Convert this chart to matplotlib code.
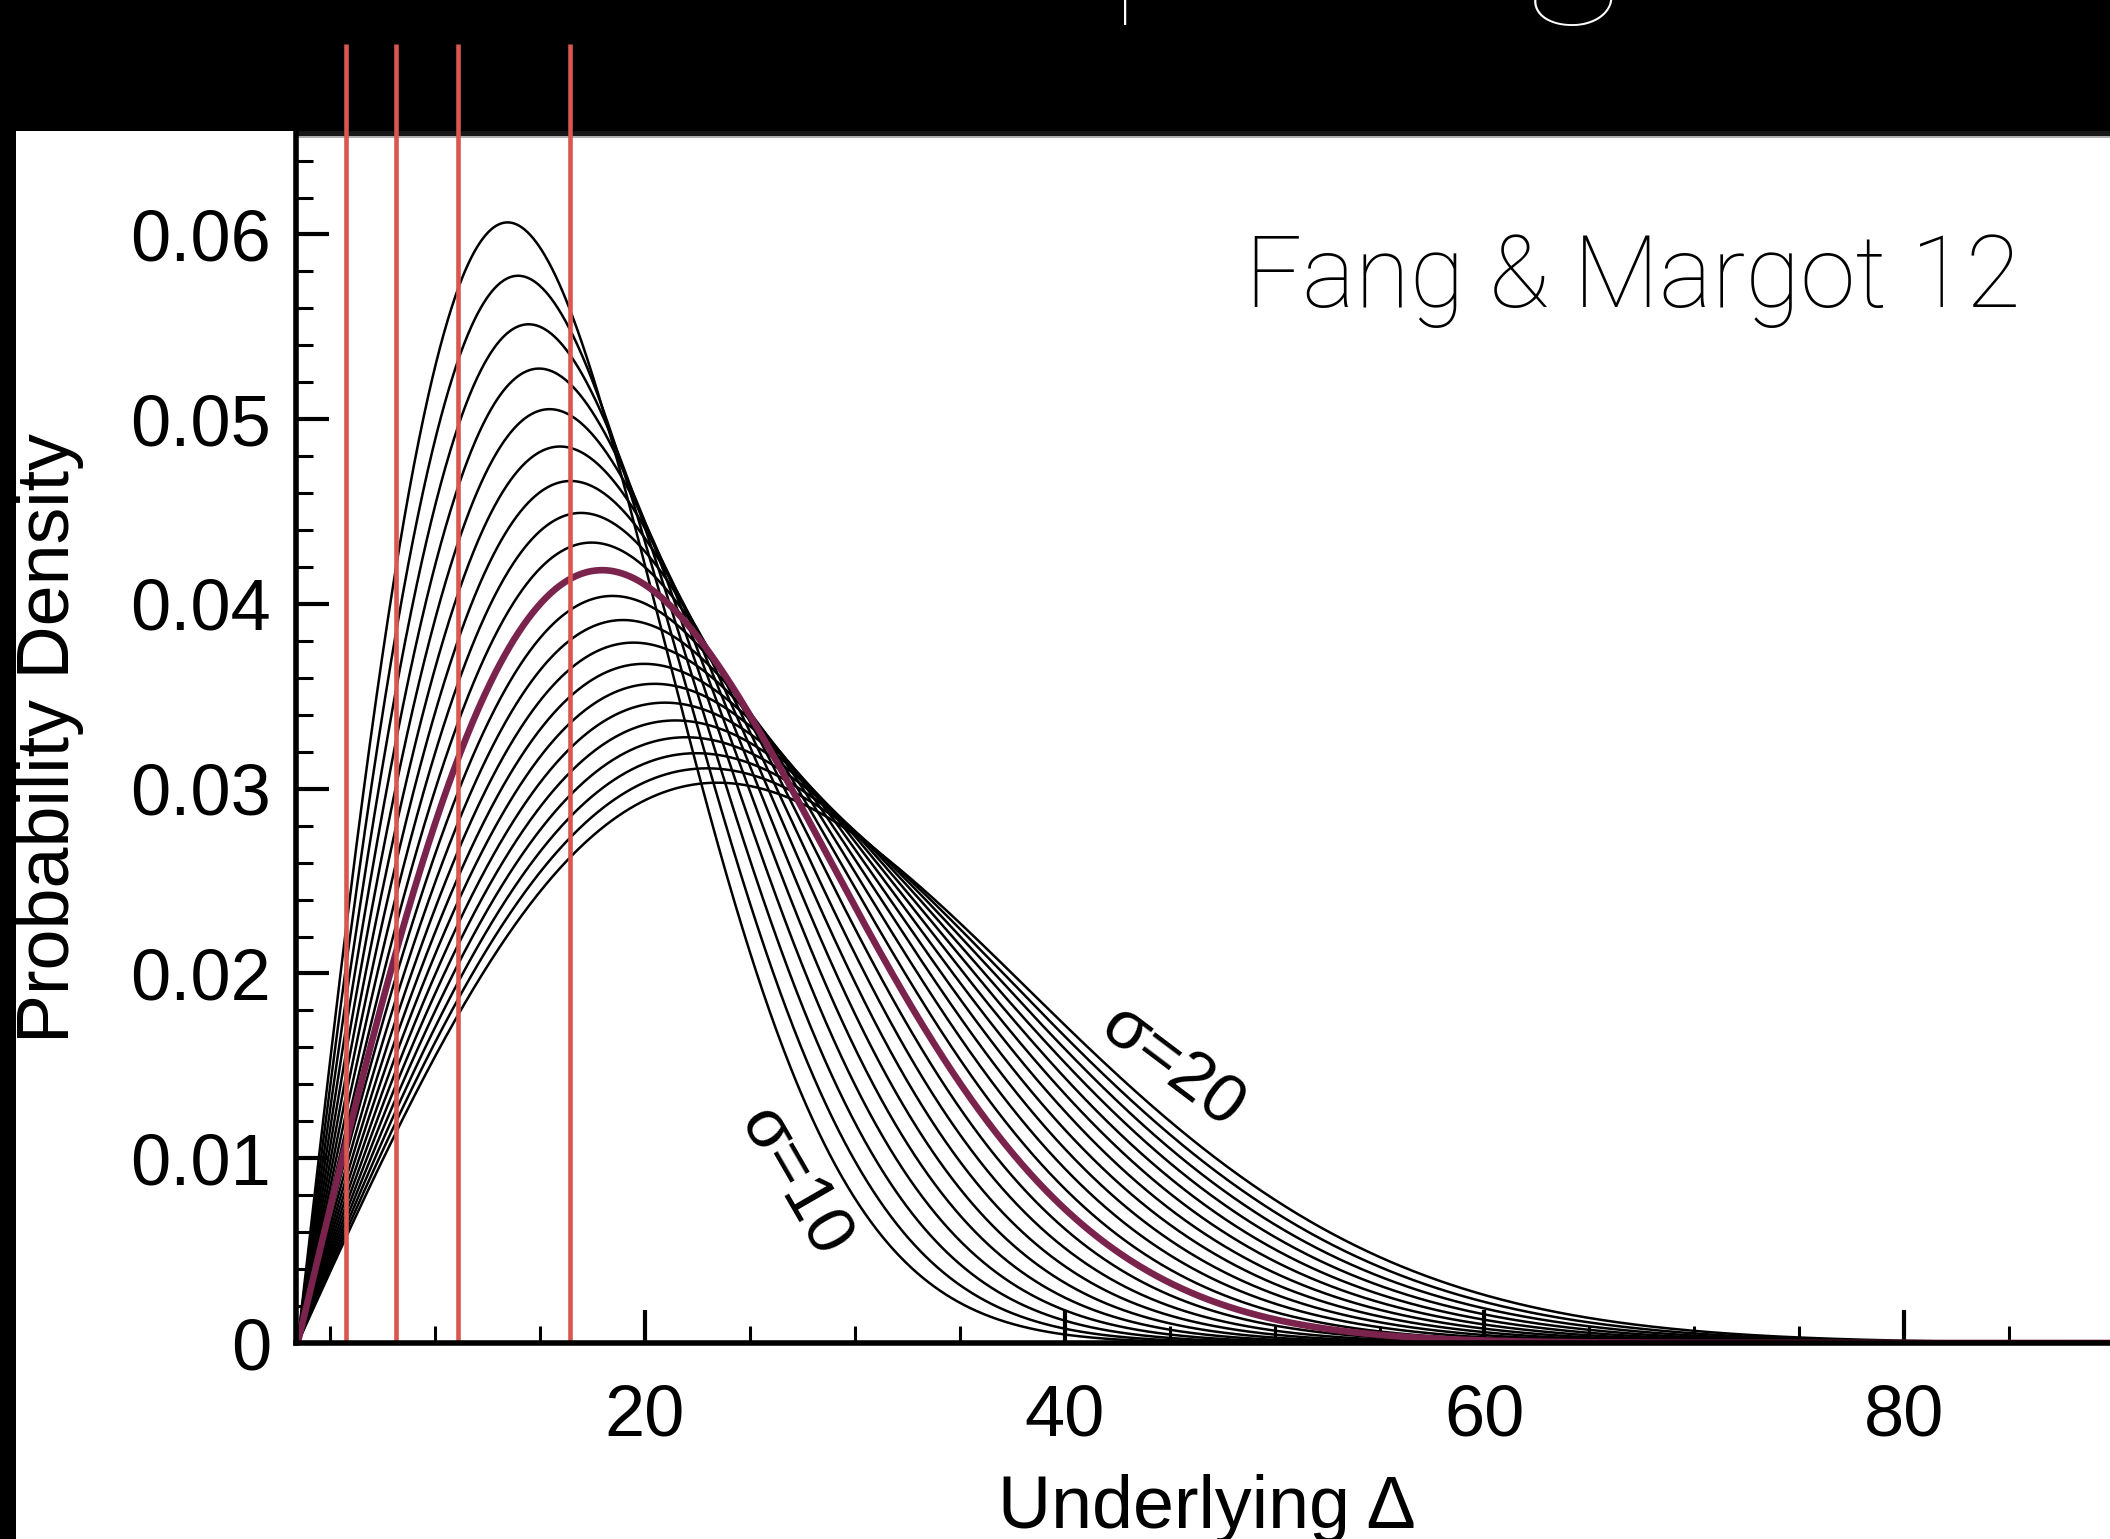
import numpy as np
import matplotlib
matplotlib.use("Agg")
import matplotlib.pyplot as plt
from matplotlib.patches import Rectangle
from matplotlib.ticker import MultipleLocator, FixedLocator, FuncFormatter

# Rayleigh widths of the family of underlying-spacing distributions
sigmas = [10.0, 10.5, 11.0, 11.5, 12.0, 12.5, 13.0, 13.5, 14.0, 14.5,
          15.0, 15.5, 16.0, 16.5, 17.0, 17.5, 18.0, 18.5, 19.0, 19.5, 20.0]
sigma_best = 14.5          # highlighted curve
delta_min = 3.46           # Hill-stability floor, 2*sqrt(3)
observed_delta = [5.76, 8.14, 11.1, 16.43]   # red markers

x_ticks = [20, 40, 60, 80]
y_ticks = [0.0, 0.01, 0.02, 0.03, 0.04, 0.05, 0.06]

W, H = 2110, 1539
fig = plt.figure(figsize=(W / 100, H / 100), dpi=100, facecolor="black")

# white slide panel holding the figure
fig.add_artist(Rectangle((16 / W, 0), 1 - 16 / W, (H - 131) / H,
                         transform=fig.transFigure, facecolor="white",
                         edgecolor="none", zorder=-10))
fig.add_artist(Rectangle((296 / W, (H - 136) / H), 1 - 296 / W, 5 / H,
                         transform=fig.transFigure, facecolor="#181818",
                         edgecolor="none", zorder=-9))
fig.add_artist(Rectangle((296 / W, (H - 138) / H), 1 - 296 / W, 2 / H,
                         transform=fig.transFigure, facecolor="#b0b0b0",
                         edgecolor="none", zorder=-9))

ax = fig.add_axes([296 / W, (H - 1343) / H, (W - 296) / W, (1343 - 131) / H])
ax.set_facecolor("none")

x = np.linspace(delta_min, 95, 2000)


def rayleigh(xv, s):
    d = xv - delta_min
    return d / s**2 * np.exp(-d**2 / (2 * s**2))


for s in sigmas:
    if s == sigma_best:
        continue
    ax.plot(x, rayleigh(x, s), color="black", lw=1.8, zorder=2)
ax.plot(x, rayleigh(x, sigma_best), color="#7a234c", lw=4.8, zorder=3)

# observed spacings as vertical markers reaching up into the title band
ax.vlines(observed_delta, 0, 1.0718, transform=ax.get_xaxis_transform(),
          colors="#d9574f", lw=3.3, clip_on=False, zorder=6)

ax.set_xlim(3.38, 89.8)
ax.set_ylim(0, 0.0656)

for side in ("top", "right"):
    ax.spines[side].set_visible(False)
for side in ("left", "bottom"):
    ax.spines[side].set_linewidth(4)
    ax.spines[side].set_color("black")
    ax.spines[side].set_zorder(7)

ax.xaxis.set_major_locator(FixedLocator(x_ticks))
ax.xaxis.set_minor_locator(MultipleLocator(5))
ax.yaxis.set_major_locator(FixedLocator(y_ticks))
ax.yaxis.set_minor_locator(MultipleLocator(0.002))
ax.yaxis.set_major_formatter(FuncFormatter(lambda v, p: "0" if abs(v) < 1e-9 else f"{v:.2f}"))

tick_font = "Liberation Sans"
ax.tick_params(which="major", direction="in", length=24, width=3, color="black",
               labelsize=52, labelcolor="black")
ax.tick_params(which="minor", direction="in", length=12, width=2.2, color="black")
ax.tick_params(axis="x", which="major", pad=29)
ax.tick_params(axis="y", which="major", pad=18)
for lab in ax.get_xticklabels() + ax.get_yticklabels():
    lab.set_fontfamily(tick_font)

fig.text(50 / W, 1 - 738 / H, "Probability Density", rotation=90,
         ha="center", va="center", fontsize=53, family=tick_font, color="black")
fig.text(1207 / W, (H - 1528) / H, "Underlying Δ", ha="center", va="baseline",
         fontsize=53, family=tick_font, color="black")

ax.text(45.1, 0.0149, "σ=20", rotation=-37, rotation_mode="anchor",
        ha="center", va="center", fontsize=50, family=tick_font, zorder=8)
ax.text(27.05, 0.0087, "σ=10", rotation=-60, rotation_mode="anchor",
        ha="center", va="center", fontsize=50, family=tick_font, zorder=8)

fig.text(1245 / W, (H - 307) / H, "Fang & Margot 12", ha="left", va="baseline",
         fontsize=72, family=["Roboto", "DejaVu Sans"], fontweight="light",
         color="black")

# slide heading, sitting almost entirely above the top edge
fig.text(1620 / W, (H + 9) / H, "Intrinsic spacing", ha="right", va="baseline",
         fontsize=135, family=["Lato", "Roboto", "DejaVu Sans"],
         fontweight="light", color="white")

fig.savefig("out.png", dpi=100, facecolor="black")
